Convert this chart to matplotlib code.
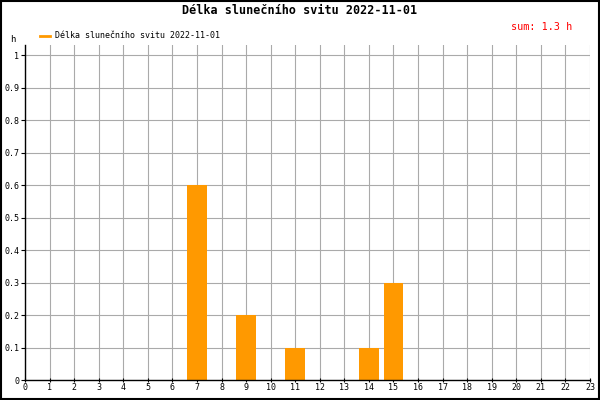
import numpy as np
import matplotlib as mpl
mpl.use('Agg')
import matplotlib.pyplot as plt
from matplotlib.ticker import MultipleLocator

hours = list(range(24))
sunshine = [0, 0, 0, 0, 0, 0, 0, 0.6, 0, 0.2, 0, 0.1,
            0, 0, 0.1, 0.3, 0, 0, 0, 0, 0, 0, 0, 0]
title = 'Délka slunečního svitu 2022-11-01'
series_label = 'Délka slunečního svitu 2022-11-01'
total = sum(sunshine)

plt.rcParams['font.family'] = ['DejaVu Sans Mono']

fig = plt.figure(figsize=(6, 4), dpi=100)
ax = fig.add_axes([25/600, 20/400, 565/600, 335/400])

ax.bar(hours, sunshine, width=0.8, color='#ff9900', zorder=3)

ax.set_xlim(0, 23)
ax.set_ylim(0, 1.031)
ax.set_yticks(np.arange(0, 1.01, 0.1))
ax.set_yticklabels(['0'] + ['%g' % v for v in np.round(np.arange(0.1, 1.01, 0.1), 1)])
ax.set_xticks(range(24))
ax.set_xticklabels([str(h) for h in range(24)])
ax.grid(True, color='#aaaaaa', linewidth=0.8, zorder=0)
ax.tick_params(axis='both', labelsize=6, length=3, width=0.8, pad=1)
ax.tick_params(axis='x', direction='inout')

for s in ['top', 'right']:
    ax.spines[s].set_visible(False)
ax.spines['left'].set_linewidth(1)
ax.spines['bottom'].set_linewidth(1)
ax.spines['left'].set_zorder(4)
ax.spines['bottom'].set_zorder(4)

fig.text(0.5, 1 - 11/400, title, ha='center', va='center', fontsize=8.5, fontweight='bold')
fig.text(572/600, 1 - 27/400, f'sum: {total:.1f} h', ha='right', va='center', fontsize=7.3, color='red')
fig.text(13/600, 1 - 40/400, 'h', ha='center', va='center', fontsize=6.5)

# legend drawn by hand
fig.add_artist(plt.Line2D([40/600, 50/600], [1 - 36/400, 1 - 36/400], color='#ff9900', linewidth=2))
fig.text(55/600, 1 - 36/400, series_label, ha='left', va='center', fontsize=6)

# outer frame
fig.add_artist(plt.Rectangle((0.001, 0.002), 0.997, 0.996, transform=fig.transFigure,
                             fill=False, edgecolor='black', linewidth=1.5))

fig.savefig('out.png', dpi=100)
